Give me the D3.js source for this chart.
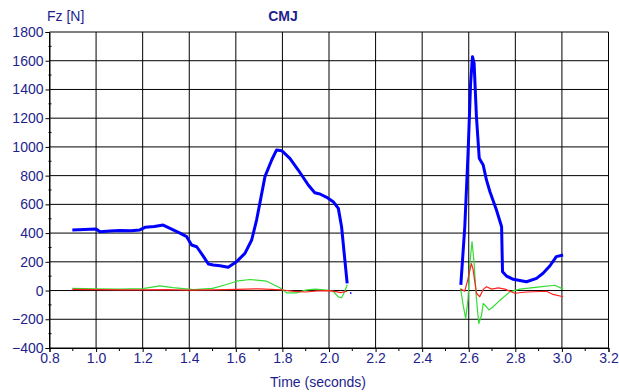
<!DOCTYPE html>
<html>
<head>
<meta charset="utf-8">
<script src="https://cdn.jsdelivr.net/npm/d3@7"></script>
<style>
  body { margin: 0; background: #fff; }
  text { font-family: "Liberation Sans", Arial, sans-serif; }
</style>
</head>
<body>
<svg id="chart"></svg>
<script>
// data: [time (s), force (N)]
const xTicks = [0.8, 1.0, 1.2, 1.4, 1.6, 1.8, 2.0, 2.2, 2.4, 2.6, 2.8, 3.0, 3.2]
const yTicks = [-400, -200, 0, 200, 400, 600, 800, 1000, 1200, 1400, 1600, 1800]

const blue1 = [[0.898,422],[1.0,429],[1.017,410],[1.06,414],[1.1,418],[1.15,416],[1.188,422],[1.21,440],[1.25,446],[1.288,456],
  [1.331,422],[1.36,400],[1.389,375],[1.41,317],[1.432,305],[1.46,240],[1.482,185],[1.503,178],[1.532,173],[1.567,162],
  [1.603,201],[1.639,259],[1.668,352],[1.689,491],[1.703,607],[1.725,793],[1.754,909],[1.775,979],[1.797,974],[1.832,920],
  [1.868,839],[1.911,735],[1.939,681],[1.961,672],[1.99,649],[2.018,619],[2.04,572],[2.054,444],[2.068,213],[2.078,50]]
const blue2 = [[2.566,39],[2.583,444],[2.597,955],[2.608,1443],[2.616,1628],[2.623,1582],[2.633,1210],[2.645,921],[2.662,874],
  [2.676,770],[2.691,688],[2.719,561],[2.741,444],[2.745,131],[2.762,101],[2.791,78],[2.848,61],[2.891,85],[2.919,120],
  [2.948,171],[2.976,236],[3.005,247]]
const blueDot = [[2.092,-12],[2.095,-22]]

const red1 = [[0.898,8],[1.0,6],[1.1,4],[1.2,5],[1.3,6],[1.4,3],[1.5,5],[1.6,8],[1.7,12],[1.8,4],[1.85,-6],[1.9,-10],
  [1.95,-2],[2.0,0],[2.03,-8],[2.05,-15],[2.078,-5]]
const red2 = [[2.565,10],[2.583,-4],[2.597,83],[2.611,188],[2.618,153],[2.633,-19],[2.647,-43],[2.662,8],[2.676,27],[2.698,10],
  [2.727,18],[2.755,10],[2.798,-19],[2.848,-10],[2.934,-5],[2.962,-27],[3.005,-43]]

const green1 = [[0.898,15],[1.0,12],[1.1,10],[1.2,14],[1.274,33],[1.33,20],[1.42,7],[1.5,15],[1.56,42],[1.603,65],[1.661,77],
  [1.732,65],[1.789,19],[1.818,-16],[1.86,-16],[1.9,3],[1.94,10],[1.99,3],[2.018,-5],[2.04,-44],[2.054,-50],[2.068,-5],[2.078,40]]
const green2 = [[2.565,15],[2.576,-102],[2.587,-195],[2.597,-56],[2.604,176],[2.614,340],[2.622,212],[2.633,-56],[2.643,-230],
  [2.655,-172],[2.662,-90],[2.676,-113],[2.687,-135],[2.705,-113],[2.734,-67],[2.776,-9],[2.819,10],[2.905,26],[2.97,37],[3.005,10]]

const W = 619, H = 392
const m = {left: 49.5, right: 10.5, top: 32, bottom: 44}
const textCol = '#1e1e8c'

const svg = d3.select('#chart').attr('width', W).attr('height', H)

const x = d3.scaleLinear().domain([0.8, 3.2]).range([m.left, W - m.right])
const y = d3.scaleLinear().domain([-400, 1800]).range([H - m.bottom, m.top])

// grid
svg.append('g').selectAll('line').data(xTicks).join('line')
  .attr('x1', d => x(d)).attr('x2', d => x(d))
  .attr('y1', m.top).attr('y2', H - m.bottom)
  .attr('stroke', '#000').attr('stroke-width', 1)
svg.append('g').selectAll('line').data(yTicks).join('line')
  .attr('x1', m.left).attr('x2', W - m.right)
  .attr('y1', d => y(d)).attr('y2', d => y(d))
  .attr('stroke', '#000').attr('stroke-width', 1)

// axes
const xAxis = svg.append('g').attr('transform', `translate(0,${H - m.bottom})`)
  .call(d3.axisBottom(x).tickValues(xTicks).tickFormat(d3.format('.1f')).tickSize(4).tickPadding(2))
const yAxis = svg.append('g').attr('transform', `translate(${m.left},0)`)
  .call(d3.axisLeft(y).tickValues(yTicks).tickFormat(d3.format('d')).tickSize(4).tickPadding(2))

;[xAxis, yAxis].forEach(a => {
  a.select('.domain').attr('stroke', '#000')
  a.selectAll('.tick line').attr('stroke', '#000')
  a.selectAll('text').attr('fill', textCol).style('font-size', '14px')
    .style('font-family', '"Liberation Sans", Arial, sans-serif')
})
xAxis.selectAll('text').attr('dy', '0.65em')

// minor ticks
svg.append('g').selectAll('line').data(d3.range(0.9, 3.2, 0.2)).join('line')
  .attr('x1', d => x(d)).attr('x2', d => x(d))
  .attr('y1', H - m.bottom).attr('y2', H - m.bottom + 3)
  .attr('stroke', '#000')
svg.append('g').selectAll('line').data(d3.range(-300, 1800, 200)).join('line')
  .attr('x1', m.left - 1).attr('x2', m.left + 2)
  .attr('y1', d => y(d)).attr('y2', d => y(d))
  .attr('stroke', '#000')

// series
const line = d3.line().x(d => x(d[0])).y(d => y(d[1]))
const series = [
  {data: green1, col: '#33dd33', w: 1.2},
  {data: green2, col: '#33dd33', w: 1.2},
  {data: red1, col: '#ff2020', w: 1.2},
  {data: red2, col: '#ff2020', w: 1.2},
  {data: blue1, col: '#0000ff', w: 3},
  {data: blue2, col: '#0000ff', w: 3},
  {data: blueDot, col: '#0000ff', w: 1.5}
]
svg.append('g').selectAll('path').data(series).join('path')
  .attr('d', d => line(d.data))
  .attr('fill', 'none')
  .attr('stroke', d => d.col)
  .attr('stroke-width', d => d.w)
  .attr('stroke-linejoin', 'round')

// titles
svg.append('text').attr('x', 47).attr('y', 21).attr('fill', textCol)
  .style('font-size', '14px').text('Fz [N]')
svg.append('text').attr('x', 283).attr('y', 21).attr('fill', textCol)
  .attr('text-anchor', 'middle').style('font-size', '14px').style('font-weight', 'bold').text('CMJ')
svg.append('text').attr('x', 318).attr('y', 387).attr('fill', textCol)
  .attr('text-anchor', 'middle').style('font-size', '14px').text('Time (seconds)')
</script>
</body>
</html>
